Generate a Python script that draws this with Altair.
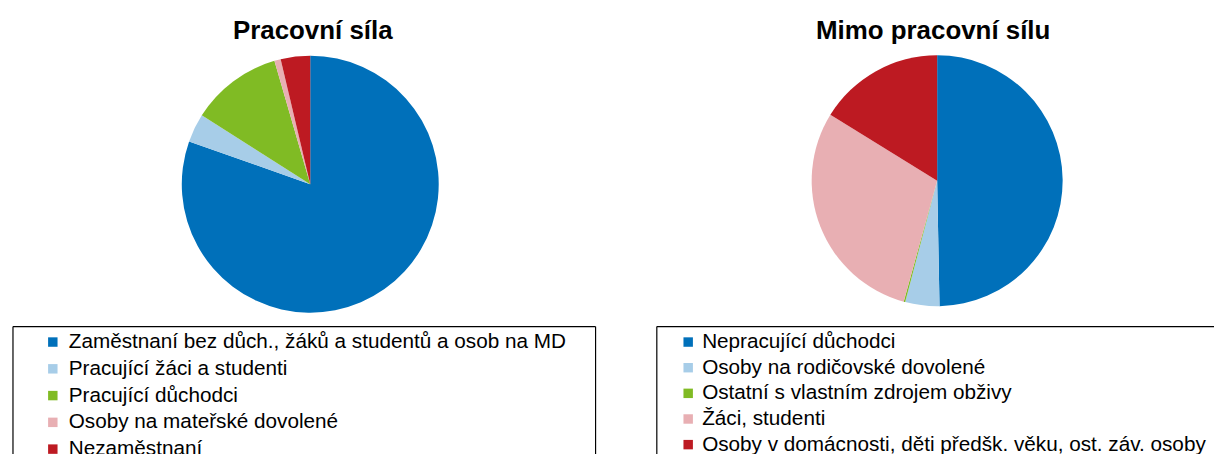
import altair as alt
import pandas as pd

# ---- data ----
left_title = "Pracovní síla"
left_cats = [
    "Zaměstnaní bez důch., žáků a studentů a osob na MD",
    "Pracující žáci a studenti",
    "Pracující důchodci",
    "Osoby na mateřské dovolené",
    "Nezaměstnaní",
]
left_vals = [80.4, 3.6, 11.5, 0.8, 3.7]

right_title = "Mimo pracovní sílu"
right_cats = [
    "Nepracující důchodci",
    "Osoby na rodičovské dovolené",
    "Ostatní s vlastním zdrojem obživy",
    "Žáci, studenti",
    "Osoby v domácnosti, děti předšk. věku, ost. záv. osoby",
]
right_vals = [49.7, 4.4, 0.2, 29.5, 16.2]

colors = ["#0070BA", "#A7CDE8", "#80BB24", "#E8AFB3", "#BD1A22"]

FONT = "Liberation Sans"
PANEL_H = 446


def panel(title, cats, vals, width, cx, cy, r, title_x, box_left, box_right,
          sq_x, txt_x, row_top, row_bottom, draw_right):
    df = pd.DataFrame({"cat": cats, "val": vals, "idx": list(range(len(cats)))})
    color = alt.Color("cat:N", scale=alt.Scale(domain=cats, range=colors), legend=None)
    base = alt.Chart(df)

    pie = base.mark_arc(radius=r).encode(
        theta=alt.Theta("val:Q", stack=True),
        order=alt.Order("idx:Q"),
        color=color,
        x=alt.value(cx),
        y=alt.value(cy),
    )

    tdf = pd.DataFrame({"t": [title]})
    ttl = alt.Chart(tdf).mark_text(
        font=FONT, fontSize=26, fontWeight="bold", color="black",
        align="center", baseline="alphabetic",
    ).encode(text="t:N", x=alt.value(title_x), y=alt.value(29))

    yscale = alt.Y("idx:Q", scale=alt.Scale(domain=[0, len(cats) - 1], range=[row_top, row_bottom]), axis=None)
    squares = base.mark_square(size=90, opacity=1).encode(
        x=alt.value(sq_x), y=yscale, color=color
    )
    labels = base.mark_text(
        font=FONT, fontSize=20.8, color="black", align="left", baseline="middle"
    ).encode(x=alt.value(txt_x), y=yscale, text="cat:N")

    one = alt.Chart(pd.DataFrame({"a": [0]}))
    rules = [
        one.mark_rule(color="black", strokeWidth=1.2).encode(
            x=alt.value(box_left), x2=alt.value(box_right), y=alt.value(318)),
        one.mark_rule(color="black", strokeWidth=1.2).encode(
            x=alt.value(box_left), y=alt.value(318), y2=alt.value(PANEL_H)),
    ]
    if draw_right:
        rules.append(one.mark_rule(color="black", strokeWidth=1.2).encode(
            x=alt.value(box_right), y=alt.value(318), y2=alt.value(PANEL_H)))

    return alt.layer(pie, ttl, *rules, squares, labels).properties(width=width, height=PANEL_H)


left = panel(left_title, left_cats, left_vals, 640, 302.5, 175, 129, 305,
             4, 589, 44, 60, 333.5, 441, True)
right = panel(right_title, right_cats, right_vals, 568, 290, 171.5, 126, 286,
              8.5, 568, 40, 54, 333.5, 436.5, False)

chart = alt.hconcat(left, right, spacing=0).resolve_scale(
    color="independent", theta="independent", y="independent"
).properties(padding=0).configure_view(stroke="transparent")

chart.save("out.html", embed_options={"renderer": "svg", "actions": False})
